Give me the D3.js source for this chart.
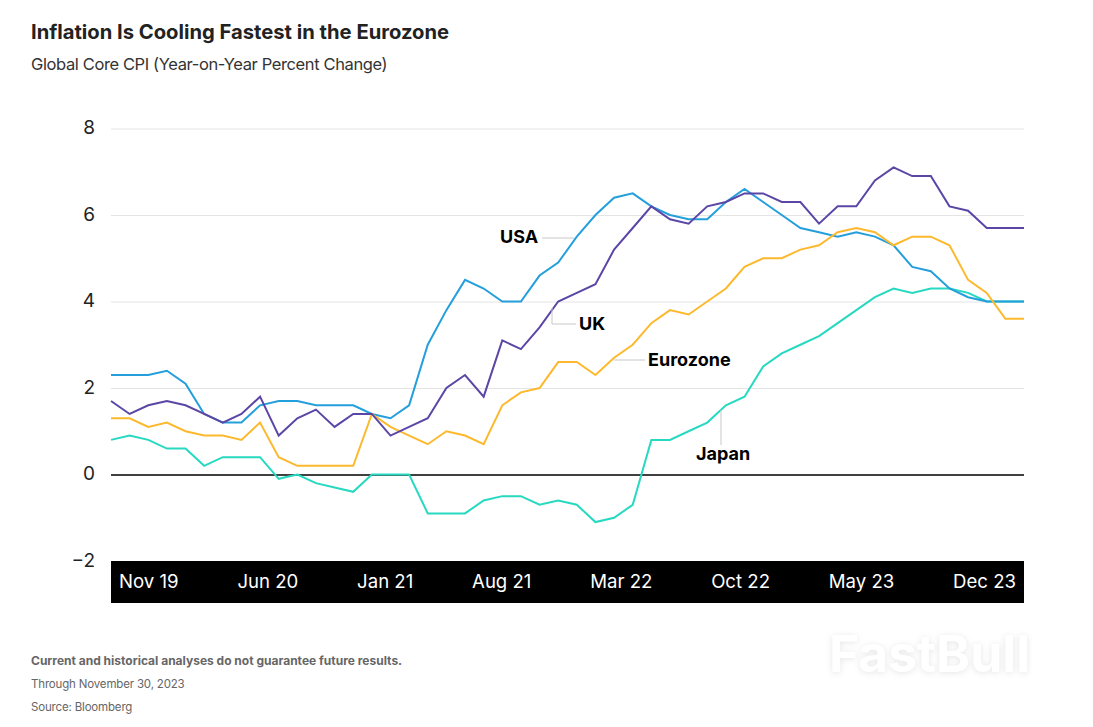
<!DOCTYPE html>
<html>
<head>
<meta charset="utf-8">
<script src="https://d3js.org/d3.v7.min.js"></script>
<style>
  body { margin: 0; background: #fff; }
  text { font-family: Inter, "Noto Sans", sans-serif; }
</style>
</head>
<body>
<div id="chart-area"></div>
<script>
const usa = [2.3,2.3,2.3,2.4,2.1,1.4,1.2,1.2,1.6,1.7,1.7,1.6,1.6,1.6,1.4,1.3,1.6,3.0,3.8,4.5,4.3,4.0,4.0,4.6,4.9,5.5,6.0,6.4,6.5,6.2,6.0,5.9,5.9,6.3,6.6,6.3,6.0,5.7,5.6,5.5,5.6,5.5,5.3,4.8,4.7,4.3,4.1,4.0,4.0,4.0];
const uk = [1.7,1.4,1.6,1.7,1.6,1.4,1.2,1.4,1.8,0.9,1.3,1.5,1.1,1.4,1.4,0.9,1.1,1.3,2.0,2.3,1.8,3.1,2.9,3.4,4.0,4.2,4.4,5.2,5.7,6.2,5.9,5.8,6.2,6.3,6.5,6.5,6.3,6.3,5.8,6.2,6.2,6.8,7.1,6.9,6.9,6.2,6.1,5.7,5.7,5.7];
const eurozone = [1.3,1.3,1.1,1.2,1.0,0.9,0.9,0.8,1.2,0.4,0.2,0.2,0.2,0.2,1.4,1.1,0.9,0.7,1.0,0.9,0.7,1.6,1.9,2.0,2.6,2.6,2.3,2.7,3.0,3.5,3.8,3.7,4.0,4.3,4.8,5.0,5.0,5.2,5.3,5.6,5.7,5.6,5.3,5.5,5.5,5.3,4.5,4.2,3.6,3.6];
const japan = [0.8,0.9,0.8,0.6,0.6,0.2,0.4,0.4,0.4,-0.1,0,-0.2,-0.3,-0.4,0,0,0,-0.9,-0.9,-0.9,-0.6,-0.5,-0.5,-0.7,-0.6,-0.7,-1.1,-1.0,-0.7,0.8,0.8,1.0,1.2,1.6,1.8,2.5,2.8,3.0,3.2,3.5,3.8,4.1,4.3,4.2,4.3,4.3,4.2,4.0,4.0,4.0];
const yTicks = [-2, 0, 2, 4, 6, 8];
const xLabels = ["Nov 19","Jun 20","Jan 21","Aug 21","Mar 22","Oct 22","May 23","Dec 23"];

const x = d3.scaleLinear().domain([0, usa.length - 1]).range([111, 1024]);
const y = d3.scaleLinear().domain([-2, 8]).range([561, 128.5]);

const svg = d3.select("#chart-area").append("svg")
  .attr("width", 1093)
  .attr("height", 727)
  .style("display", "block");

// Title
svg.append("text")
  .attr("x", 31).attr("y", 39)
  .attr("font-size", "20.2px").attr("font-weight", 700).attr("fill", "#222")
  .text("Inflation Is Cooling Fastest in the Eurozone");
svg.append("text")
  .attr("x", 31).attr("y", 70)
  .attr("font-size", "16.5px").attr("letter-spacing", "-0.38px").attr("fill", "#333")
  .text("Global Core CPI (Year-on-Year Percent Change)");

// Y axis and grid
const yAxisCall = d3.axisLeft(y)
  .tickValues(yTicks)
  .tickSize(0)
  .tickPadding(16)
  .tickFormat(d => d < 0 ? "\u2212" + Math.abs(d) : d);
const yAxis = svg.append("g")
  .attr("transform", "translate(111, 0)")
  .call(yAxisCall);
yAxis.select(".domain").remove();
yAxis.selectAll("text")
  .attr("font-size", "19px")
  .attr("fill", "#222")
  .attr("y", -1)
  .style("font-family", "Inter, sans-serif");
yAxis.selectAll(".tick").append("line")
  .attr("x1", 0).attr("x2", 913)
  .attr("stroke", d => d === 0 ? "#000" : "#e4e4e4")
  .attr("stroke-width", d => d === 0 ? 1.3 : 1);

// Month bar
svg.append("rect")
  .attr("x", 111).attr("y", 561)
  .attr("width", 913).attr("height", 42)
  .attr("fill", "#000");
const barLabels = svg.append("g").selectAll("text").data(xLabels).enter().append("text")
  .attr("y", 588)
  .attr("font-size", "18.6px")
  .attr("fill", "#fff")
  .text(d => d);
// labels are spread evenly over the bar by their own widths
const widths = barLabels.nodes().map(n => n.getComputedTextLength());
const gap = (1016 - 119 - d3.sum(widths)) / (xLabels.length - 1);
barLabels.attr("x", (d, i) => 119 + d3.sum(widths.slice(0, i)) + gap * i);

// Lines
const line = d3.line().x((d, i) => x(i)).y(d => y(d));
const series = [
  { values: japan, color: "#26d9c0" },
  { values: usa, color: "#259fdc" },
  { values: eurozone, color: "#fdb92e" },
  { values: uk, color: "#5b46a6" },
];
svg.append("g").selectAll("path").data(series).enter().append("path")
  .attr("d", d => line(d.values))
  .attr("fill", "none")
  .attr("stroke", d => d.color)
  .attr("stroke-width", 2)
  .attr("stroke-linejoin", "miter");

// Leader lines
const leaders = ["M542,238H574", "M552,308V324H576", "M614,360H645", "M721,410V445"];
svg.append("g").selectAll("path").data(leaders).enter().append("path")
  .attr("d", d => d)
  .attr("fill", "none")
  .attr("stroke", "#c8c8c8")
  .attr("stroke-width", 1);

// Series labels
const seriesLabels = [["USA", 500, 243], ["UK", 579, 330], ["Eurozone", 648, 366], ["Japan", 696, 460]];
svg.append("g").selectAll("text").data(seriesLabels).enter().append("text")
  .attr("x", d => d[1]).attr("y", d => d[2])
  .attr("font-size", "18px").attr("font-weight", 700).attr("fill", "#000")
  .text(d => d[0]);

// Footer
svg.append("text").attr("x", 31).attr("y", 665)
  .attr("font-size", "12px").attr("font-weight", 700).attr("fill", "#666")
  .text("Current and historical analyses do not guarantee future results.");
svg.append("text").attr("x", 31).attr("y", 688)
  .attr("font-size", "11.5px").attr("letter-spacing", "-0.17px").attr("fill", "#666")
  .text("Through November 30, 2023");
svg.append("text").attr("x", 31).attr("y", 711)
  .attr("font-size", "11.5px").attr("letter-spacing", "-0.17px").attr("fill", "#666")
  .text("Source: Bloomberg");

// Watermark
svg.append("text").attr("x", 829).attr("y", 672)
  .attr("font-size", "51.5px").attr("font-weight", 700)
  .attr("fill", "#fff")
  .style("filter", "drop-shadow(0 1px 3px rgba(0,0,0,0.10))")
  .text("FastBull");
</script>
</body>
</html>
